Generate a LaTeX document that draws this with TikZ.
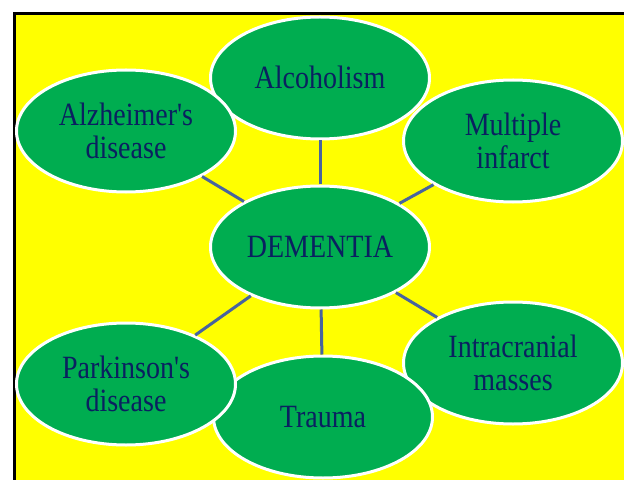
\documentclass[tikz,border=0pt]{standalone}
\usepackage{fontspec}
\setmainfont{Liberation Serif}[Ligatures=TeXOff]
\usetikzlibrary{shapes.geometric}

\definecolor{leafgreen}{RGB}{0,173,80}
\definecolor{inkblue}{RGB}{10,32,96}
\definecolor{spoke}{RGB}{72,100,158}
\definecolor{panel}{RGB}{255,255,0}

% taller-than-wide serif lettering, set a little below the centre
\newcommand{\tallword}[1]{\raisebox{-4bp}[\height][\depth]{\scalebox{1}[1.16]{\begin{tabular}{@{}c@{}}#1\end{tabular}}}}

\tikzset{
  bubble/.style={ellipse, fill=leafgreen, draw=white, line width=3bp,
    minimum width=219bp, minimum height=122bp, inner sep=0pt,
    text=inkblue, font=\fontsize{28bp}{28.5bp}\selectfont},
  spokeline/.style={draw=spoke, line width=3bp}
}

\begin{document}
\begin{tikzpicture}[x=1bp, y=-1bp]
  \useasboundingbox (0,0) rectangle (624,480);
  \clip (0,0) rectangle (624,480);

  % yellow panel with black frame
  \draw[black, line width=3.2bp, fill=panel] (14.6,13.6) rectangle (660,520);

  % outer topics
  \node[bubble] (alc)  at (320,78)  {\tallword{Alcoholism}};
  \node[bubble] (alz)  at (126,131) {\tallword{Alzheimer's\\disease}};
  \node[bubble] (mult) at (513,141) {\tallword{Multiple\\infarct}};
  \node[bubble] (dem)  at (320,247) {\tallword{DEMENTIA}};
  \node[bubble] (intr) at (513,363) {\tallword{Intracranial\\masses}};
  \node[bubble] (trau) at (323,417) {\tallword{Trauma}};
  \node[bubble] (park) at (126,384) {\tallword{Parkinson's\\disease}};

  % spokes from the centre
  \foreach \t in {alc,alz,mult,intr,trau,park}
    \draw[spokeline] (dem) -- (\t);
\end{tikzpicture}
\end{document}
